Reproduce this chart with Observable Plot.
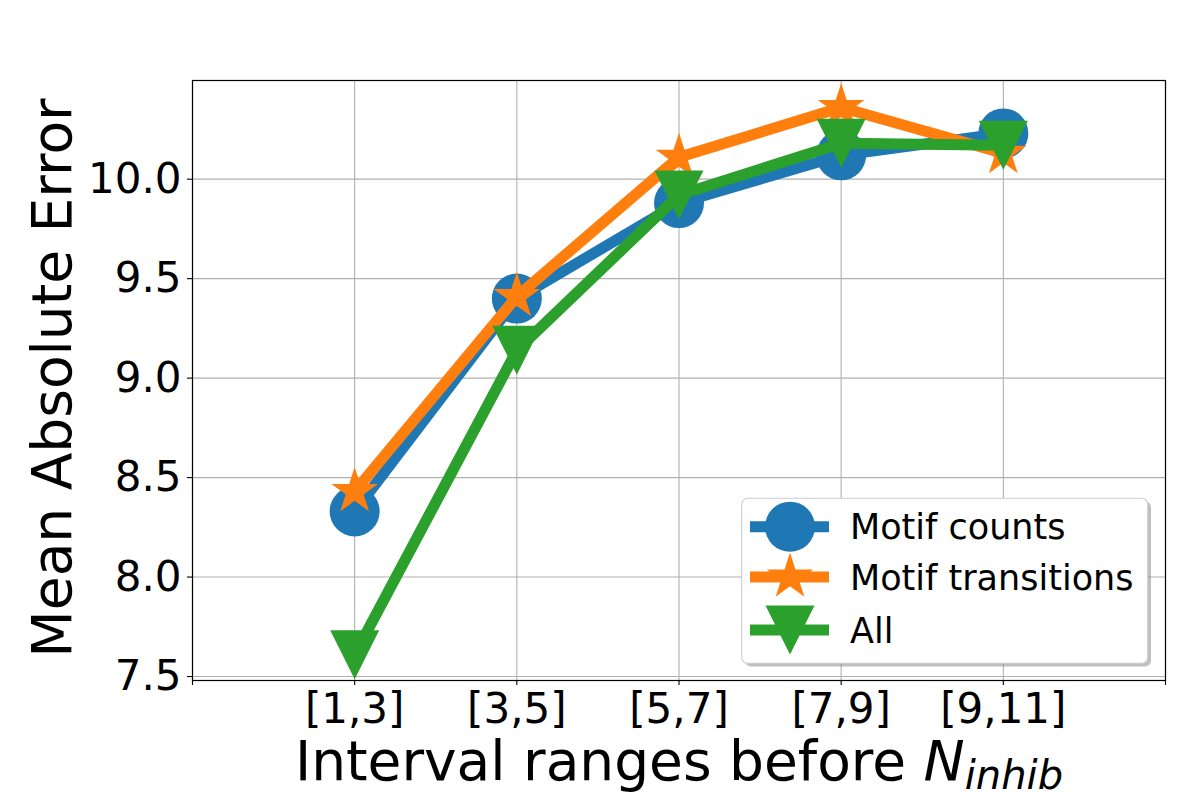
<!DOCTYPE html>
<html>
<head>
<meta charset="utf-8">
<script src="https://cdn.jsdelivr.net/npm/d3@7"></script>
<script src="https://cdn.jsdelivr.net/npm/@observablehq/plot@0.6"></script>
<style>
  html, body { margin: 0; padding: 0; background: white; }
  #chart { width: 1200px; height: 800px; }
</style>
</head>
<body>
<div id="chart"></div>
<script>
// ---- data ----
const categories = ["[1,3]", "[3,5]", "[5,7]", "[7,9]", "[9,11]"];
const motifCounts = [8.33, 9.40, 9.88, 10.12, 10.23];
const motifTransitions = [8.43, 9.41, 10.11, 10.36, 10.13];
const allFeatures = [7.61, 9.14, 9.92, 10.18, 10.17];
const seriesNames = ["Motif counts", "Motif transitions", "All"];
const seriesColors = ["#1f77b4", "#ff7f0e", "#2ca02c"];
const yTicks = [7.5, 8.0, 8.5, 9.0, 9.5, 10.0];

// ---- custom marker symbols (matplotlib-like) ----
const starSym = {
  draw(ctx, size) {
    const R = Math.sqrt(size / Math.PI), r = R * 0.381966;
    for (let k = 0; k < 10; k++) {
      const a = Math.PI * k / 5, rad = k % 2 ? r : R;
      const px = rad * Math.sin(a), py = -rad * Math.cos(a);
      if (k) ctx.lineTo(px, py); else ctx.moveTo(px, py);
    }
    ctx.closePath();
  }
};
const triDownSym = {
  draw(ctx, size) {
    const s = Math.sqrt(size / Math.PI);
    ctx.moveTo(-s, -s); ctx.lineTo(s, -s); ctx.lineTo(0, s); ctx.closePath();
  }
};
const circleSym = d3.symbolCircle;
const symbols = [circleSym, starSym, triDownSym];
const radii = [25, 24.5, 24.5];

const seriesValues = [motifCounts, motifTransitions, allFeatures];
const seriesData = seriesValues.map(vals => vals.map((v, i) => ({x: i, y: v})));

const xTicks = d3.range(-1, categories.length + 1);

const marks = [
  Plot.gridX({ticks: xTicks, stroke: "#b0b0b0", strokeOpacity: 1, strokeWidth: 1.1}),
  Plot.gridY({ticks: yTicks, stroke: "#b0b0b0", strokeOpacity: 1, strokeWidth: 1.1}),
  Plot.axisY({ticks: yTicks, tickFormat: d3.format(".1f"), fontSize: 42, tickSize: 5, tickPadding: 6, label: null, strokeWidth: 1.1}),
  Plot.axisX({ticks: xTicks, tickFormat: i => categories[i] ?? "", fontSize: 42, tickSize: 5, tickPadding: 8, label: null, strokeWidth: 1.1}),
  Plot.frame({stroke: "black", strokeWidth: 1.2})
];
seriesData.forEach((data, k) => {
  marks.push(Plot.line(data, {x: "x", y: "y", stroke: seriesColors[k], strokeWidth: 11, strokeLinejoin: "round", strokeLinecap: "butt"}));
  marks.push(Plot.dot(data, {x: "x", y: "y", r: radii[k], symbol: symbols[k], fill: seriesColors[k], stroke: "none"}));
});

const plot = Plot.plot({
  width: 1200,
  height: 800,
  marginLeft: 192,
  marginRight: 35,
  marginTop: 80,
  marginBottom: 120,
  style: {fontFamily: "DejaVu Sans", background: "white", color: "black", overflow: "visible"},
  x: {type: "linear", domain: [-1, 5]},
  y: {domain: [7.48, 10.496]},
  marks
});
document.getElementById("chart").appendChild(plot);

// ---- labels and legend ----
const svg = d3.select(plot);
svg.append("text")
  .attr("transform", "translate(71,378) rotate(-90)")
  .attr("text-anchor", "middle")
  .attr("font-family", "DejaVu Sans")
  .attr("font-size", 55)
  .attr("fill", "black")
  .text("Mean Absolute Error");

const xl = svg.append("text")
  .attr("x", 679).attr("y", 780)
  .attr("text-anchor", "middle")
  .attr("font-family", "DejaVu Sans")
  .attr("font-size", 55)
  .attr("fill", "black");
xl.append("tspan").text("Interval ranges before ");
xl.append("tspan").attr("font-style", "italic").text("N");
xl.append("tspan").attr("font-style", "italic").attr("font-size", 40).attr("dy", 9).text("inhib");

const lg = svg.append("g").attr("text-anchor", "start");
lg.append("rect").attr("x", 745).attr("y", 501.5).attr("width", 406).attr("height", 165).attr("rx", 6)
  .attr("fill", "#808080").attr("fill-opacity", 0.5);
lg.append("rect").attr("x", 741.7).attr("y", 498.3).attr("width", 406).attr("height", 165).attr("rx", 6)
  .attr("fill", "white").attr("stroke", "#cccccc").attr("stroke-width", 1.1);
const rowY = [526.7, 577, 630];
seriesNames.forEach((name, k) => {
  const g = lg.append("g");
  g.append("line").attr("x1", 750).attr("x2", 829).attr("y1", rowY[k]).attr("y2", rowY[k])
    .attr("stroke", seriesColors[k]).attr("stroke-width", 11);
  g.append("path")
    .attr("transform", `translate(790,${rowY[k]})`)
    .attr("d", d3.symbol(symbols[k], radii[k] * radii[k] * Math.PI)())
    .attr("fill", seriesColors[k]);
  g.append("text").attr("x", 850).attr("y", rowY[k]).attr("dy", "0.36em")
    .attr("text-anchor", "start")
    .attr("font-family", "DejaVu Sans").attr("font-size", 35).attr("fill", "black")
    .text(name);
});
</script>
</body>
</html>
